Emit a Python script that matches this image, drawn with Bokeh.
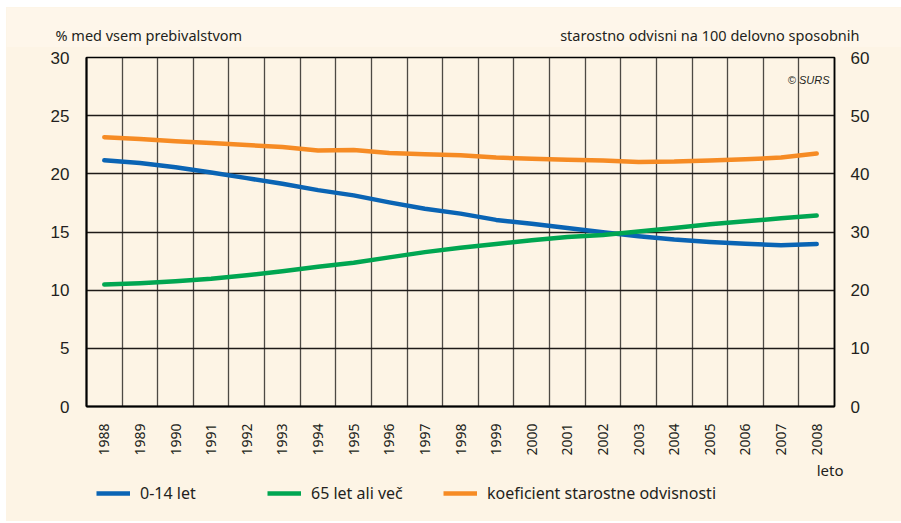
import math
from bokeh.plotting import figure
from bokeh.layouts import column
from bokeh.models import Range1d, LinearAxis, FixedTicker, Label, Legend, LegendItem
from bokeh.embed import file_html
from bokeh.resources import INLINE

years = list(range(1988, 2009))
age_0_14 = [21.16, 20.94, 20.57, 20.11, 19.63, 19.14, 18.6, 18.15, 17.55, 17.0, 16.58,
            16.04, 15.7, 15.35, 14.98, 14.64, 14.36, 14.15, 13.98, 13.87, 13.96]
age_65_plus = [10.48, 10.6, 10.77, 10.99, 11.28, 11.62, 12.02, 12.36, 12.82, 13.27, 13.64,
               13.96, 14.3, 14.58, 14.75, 15.04, 15.35, 15.67, 15.92, 16.18, 16.41]
dependency_ratio = [46.3, 46.0, 45.6, 45.3, 44.96, 44.6, 44.0, 44.1, 43.6, 43.35, 43.2,
                    42.8, 42.6, 42.4, 42.3, 42.05, 42.1, 42.3, 42.5, 42.8, 43.5]
left_ticks = [0, 5, 10, 15, 20, 25, 30]
right_ticks = [0, 10, 20, 30, 40, 50, 60]
grid_x = [y + 0.5 for y in years[:-1]]

series_names = ["0-14 let", "65 let ali več", "koeficient starostne odvisnosti"]
left_title = "% med vsem prebivalstvom"
right_title = "starostno odvisni na 100 delovno sposobnih"
x_title = "leto"
source_note = "© SURS"

CREAM = "#fdf4e5"
CREAM_TOP = "#fef6ea"
INK = "#231f20"
BLUE = "#0a64b4"
GREEN = "#00a651"
ORANGE = "#f68b24"
W = 895


def blank(height, fill):
    f = figure(width=W, height=height, output_backend="svg", toolbar_location=None,
               x_range=Range1d(0, W), y_range=Range1d(height, 0),
               x_axis_type=None, y_axis_type=None, frame_align=False,
               min_border_left=0, min_border_right=0, min_border_top=0, min_border_bottom=0,
               background_fill_color=fill, border_fill_color=fill)
    f.outline_line_color = None
    f.xgrid.visible = False
    f.ygrid.visible = False
    return f


# ---- header with axis titles (pixel coordinates inside the header strip)
head = blank(40, CREAM_TOP)
head.add_layout(Label(x=49, y=27, text=left_title, text_font="Noto Sans", text_font_size="14.5px",
                      text_color=INK, text_baseline="alphabetic", text_align="left"))
head.add_layout(Label(x=853, y=27, text=right_title, text_font="Noto Sans", text_font_size="14.5px",
                      text_color=INK, text_baseline="alphabetic", text_align="right"))

# ---- main chart
p = figure(width=W, height=411, output_backend="svg", toolbar_location=None,
           x_range=Range1d(1987.5, 2008.5), y_range=Range1d(0, 30), frame_align=False,
           min_border_left=80, min_border_right=67, min_border_top=10, min_border_bottom=52,
           background_fill_color=CREAM, border_fill_color=CREAM)
p.extra_y_ranges = {"right": Range1d(0, 60)}
p.outline_line_color = "black"
p.outline_line_width = 1.5

xa = p.xaxis[0]
xa.ticker = FixedTicker(ticks=years)
xa.major_label_overrides = {y: str(y) for y in years}
xa.major_label_orientation = math.pi / 2
xa.major_label_text_font = "Noto Sans"
xa.major_label_text_font_size = "14px"
xa.major_label_text_color = INK
xa.major_label_standoff = 11
xa.major_tick_line_color = None
xa.minor_tick_line_color = None
xa.axis_line_color = "black"
xa.axis_line_width = 2

ya = p.yaxis[0]
ya.ticker = FixedTicker(ticks=left_ticks)
ya.major_label_text_font = "Liberation Sans"
ya.major_label_text_font_size = "17px"
ya.major_label_text_color = INK
ya.major_label_standoff = 11
ya.major_tick_line_color = None
ya.minor_tick_line_color = None
ya.axis_line_color = "black"
ya.axis_line_width = 2

ra = LinearAxis(y_range_name="right", ticker=FixedTicker(ticks=right_ticks))
ra.major_label_text_font = "Liberation Sans"
ra.major_label_text_font_size = "17px"
ra.major_label_text_color = INK
ra.major_label_standoff = 10
ra.major_tick_line_color = None
ra.minor_tick_line_color = None
ra.axis_line_color = "black"
ra.axis_line_width = 1.5
p.add_layout(ra, "right")

p.xgrid[0].ticker = FixedTicker(ticks=grid_x)
p.xgrid[0].grid_line_color = "#2e2a28"
p.xgrid[0].grid_line_width = 1.3
p.xgrid[0].grid_line_alpha = 0.85
p.ygrid[0].ticker = FixedTicker(ticks=left_ticks)
p.ygrid[0].grid_line_color = "#1e1a18"
p.ygrid[0].grid_line_width = 1.3

p.line(years, age_0_14, line_color=BLUE, line_width=4.5, line_cap="round", line_join="round")
p.line(years, age_65_plus, line_color=GREEN, line_width=4.5, line_cap="round", line_join="round")
p.line(years, dependency_ratio, y_range_name="right", line_color=ORANGE, line_width=4.5,
       line_cap="round", line_join="round")

p.add_layout(Label(x=2008.5, y=30, x_offset=-5, y_offset=-22, text=source_note,
                   text_font="Liberation Sans", text_font_style="italic", text_font_size="11px",
                   text_color=INK, text_baseline="middle", text_align="right"))

# ---- footer with x title and legend
foot = blank(63, CREAM)
foot.add_layout(Label(x=837, y=11, text=x_title, text_font="Noto Sans", text_font_size="15px",
                      text_color=INK, text_baseline="middle", text_align="right"))
nan = float("nan")
for name, color, xloc in [(series_names[0], BLUE, 90), (series_names[1], GREEN, 261),
                          (series_names[2], ORANGE, 437)]:
    r = foot.line([nan], [nan], line_color=color, line_width=4.5)
    lg = Legend(items=[LegendItem(label=name, renderers=[r])], location=(xloc, 17),
                orientation="horizontal", background_fill_alpha=0, border_line_color=None,
                padding=0, margin=0, glyph_width=34, glyph_height=20, label_height=20,
                label_standoff=10, label_text_font="Noto Sans", label_text_font_size="16px",
                label_text_color=INK, label_text_baseline="middle")
    foot.add_layout(lg)

layout = column(head, p, foot, spacing=0, margin=(7, 0, 0, 6),
                styles={"background-color": CREAM})
open("out.html", "w").write(file_html(layout, INLINE))
